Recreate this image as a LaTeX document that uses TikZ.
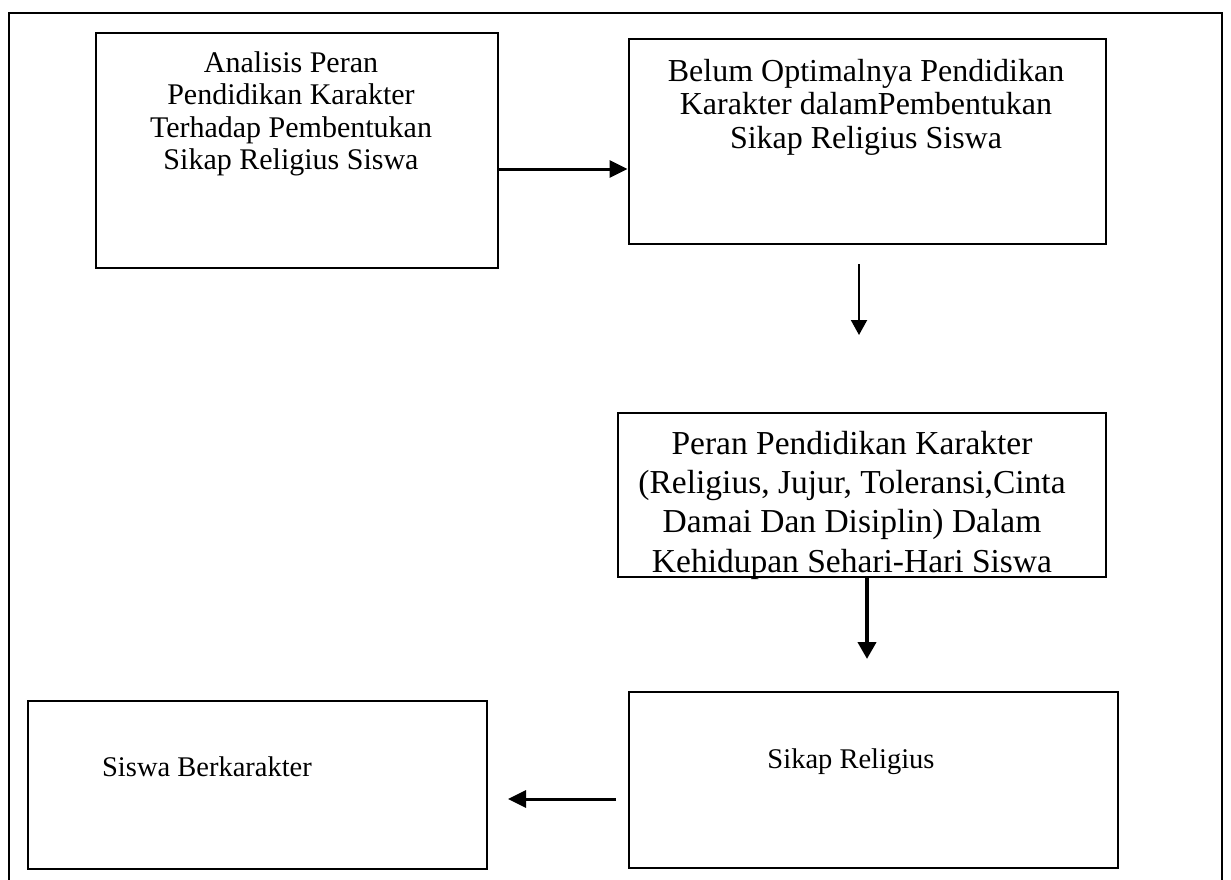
\documentclass[tikz,border=0pt]{standalone}
\usepackage{fontspec}
\setmainfont{Liberation Serif}
\usetikzlibrary{arrows.meta,calc}
\begin{document}
\begin{tikzpicture}[x=1pt,y=-1pt,
  box/.style={draw=black,line width=2.8pt,inner sep=0pt,minimum width=#1},
  txt/.style={align=center,inner sep=0pt,font=\fontsize{30}{32.5}\selectfont},
  txtb/.style={align=center,inner sep=0pt,font=\fontsize{32}{33.5}\selectfont},
  txtc/.style={align=center,inner sep=0pt,font=\fontsize{33.5}{39.3}\selectfont},
  txts/.style={align=center,inner sep=0pt,font=\fontsize{28.5}{32}\selectfont},
  arr/.style={line width=3pt,-{Triangle[length=18pt,width=17pt]}},
  arrthin/.style={line width=2pt,-{Triangle[length=15pt,width=16pt]}},
  arrthick/.style={line width=4pt,-{Triangle[length=17pt,width=18pt]}}]
\useasboundingbox (0,0) rectangle (1231,880);
% outer frame (open at the bottom)
\draw[line width=2.8pt] (9,882) -- (9,13) -- (1222,13) -- (1222,882);
% boxes
\node[box=402pt,minimum height=235pt] (A) at (297,150.5) {};
\node[box=477pt,minimum height=205pt] (B) at (867.5,141.5) {};
\node[box=488pt,minimum height=164pt] (C) at (862,495) {};
\node[box=489pt,minimum height=176pt] (D) at (873.5,780) {};
\node[box=459pt,minimum height=168pt] (E) at (257.5,785) {};
% texts
\node[txt] (tA) at (291,114) {Analisis Peran\\Pendidikan Karakter\\Terhadap Pembentukan\\Sikap Religius Siswa};
\node[txtb] (tB) at (866,107) {Belum Optimalnya Pendidikan\\Karakter dalamPembentukan\\Sikap Religius Siswa};
\node[txtc] (tC) at (852,505) {Peran Pendidikan Karakter\\(Religius, Jujur, Toleransi,Cinta\\Damai Dan Disiplin) Dalam\\Kehidupan Sehari-Hari Siswa};
\node[txts] (tD) at (851,762) {Sikap Religius};
\node[txts] (tE) at (207,767) {Siswa Berkarakter};
% connector end points
\coordinate (ab) at (0,169);
\coordinate (bc1) at (859,264);
\coordinate (bc2) at (859,335);
\coordinate (cd) at (867,0);
\coordinate (cd2) at (867,659);
\coordinate (de1) at (616,799);
\coordinate (de2) at (508,799);
% connectors
\draw[arr] (A.east |- ab) -- (B.west |- ab);
\draw[arrthin] (bc1) -- (bc2);
\draw[arrthick] (C.south -| cd) -- (cd2);
\draw[arr] (de1) -- (de2);
\end{tikzpicture}
\end{document}
